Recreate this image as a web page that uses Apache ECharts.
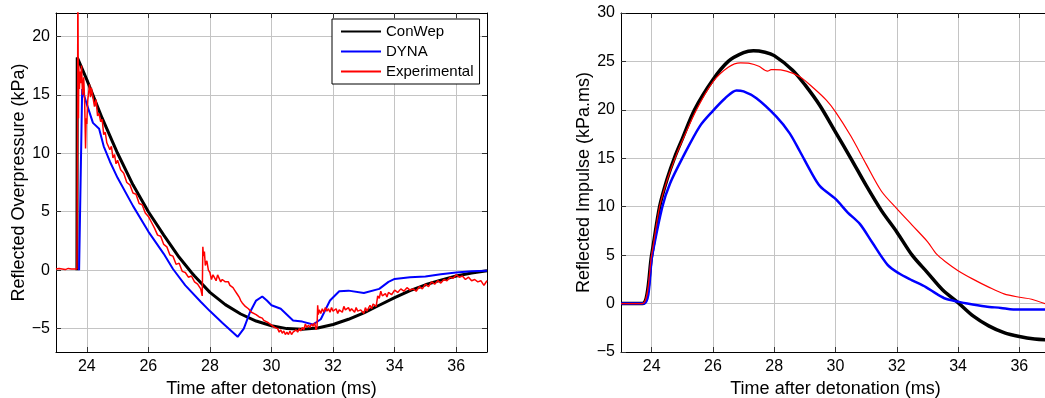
<!DOCTYPE html>
<html>
<head>
<meta charset="utf-8">
<script src="https://cdn.jsdelivr.net/npm/echarts@6.0.0/dist/echarts.min.js"></script>
<style>
html,body{margin:0;padding:0;background:#fff;}
#chart{width:1045px;height:398px;}
</style>
</head>
<body>
<div id="chart"></div>
<script>
// ---- tick labels ----
const timeTicks = [24, 26, 28, 30, 32, 34, 36];
const pressureTicks = [-5, 0, 5, 10, 15, 20];
const impulseTicks = [-5, 0, 5, 10, 15, 20, 25, 30];
const seriesNames = ['ConWep', 'DYNA', 'Experimental'];

// ---- left panel: reflected overpressure (kPa) vs time (ms) ----
const conwepPressure = [
  [23.68,0],[23.69,18.2],[24.0,16.3],[24.5,13.0],[25.0,10.0],[25.5,7.3],[26.0,5.0],[26.5,3.0],
  [27.0,1.1],[27.4,-0.2],[27.5,-0.5],[28.0,-1.9],[28.5,-2.95],[29.0,-3.75],[29.5,-4.35],[30.0,-4.75],
  [30.5,-5.0],[31.0,-5.05],[31.5,-4.95],[32.0,-4.65],[32.5,-4.2],[33.0,-3.65],[33.5,-3.0],
  [34.0,-2.35],[34.5,-1.75],[35.0,-1.25],[35.5,-0.85],[36.0,-0.5],[36.5,-0.25],[37.0,-0.05]
];
const dynaPressure = [
  [23.75,0],[23.85,15.5],[24.0,14.2],[24.2,12.6],[24.4,12.1],[24.55,10.6],[24.75,9.3],[25.0,7.9],
  [25.5,5.5],[26.0,3.3],[26.5,1.4],[26.8,0.1],[27.2,-1.3],[27.7,-2.7],[28.0,-3.5],[28.4,-4.5],
  [28.9,-5.7],[29.1,-5.0],[29.3,-3.6],[29.5,-2.6],[29.7,-2.25],[29.85,-2.6],[30.0,-3.0],[30.3,-3.3],
  [30.7,-4.3],[31.0,-4.4],[31.35,-4.65],[31.6,-4.2],[31.9,-2.6],[32.2,-1.8],[32.5,-1.75],[33.0,-1.95],
  [33.5,-1.6],[33.8,-1.0],[34.0,-0.75],[34.5,-0.6],[35.0,-0.55],[35.5,-0.35],[36.0,-0.2],[36.5,-0.1],[37.0,-0.05]
];
const expPressure = [
  [23.0,0.1],[23.05,-0.05],[23.1,0.15],[23.15,0.0],[23.2,0.1],[23.25,0.2],[23.3,0.05],[23.35,0.2],
  [23.4,0.15],[23.45,0.3],[23.5,0.1],[23.55,0.25],[23.6,0.1],[23.65,0.2],[23.68,0.1],
  [23.70,12.5],[23.71,25],[23.72,18],[23.73,13],[23.74,17.5],[23.76,15.5],[23.78,17.0],[23.80,16.0],
  [23.83,17.5],[23.86,15.0],[23.90,16.5],[23.93,14.5],[23.96,10.4],[23.98,13.0],[24.0,12.5],
  [24.03,14.5],[24.06,15.2],[24.09,15.9],[24.12,14.8],[24.15,15.6],[24.2,14.8],[24.25,14.0],
  [24.3,14.6],[24.35,13.2],[24.4,13.4],[24.45,12.7],[24.5,12.9],[24.55,11.6],[24.6,11.8],
  [24.65,10.9],[24.7,11.0],[24.75,10.3],[24.8,10.6],[24.85,9.6],[24.9,9.9],[24.95,9.1],[25.0,9.4],
  [25.1,8.6],[25.2,8.3],[25.3,7.5],[25.4,7.3],[25.5,6.6],[25.6,6.5],[25.7,5.7],[25.8,5.6],
  [25.9,4.9],[26.0,4.6],[26.1,4.1],[26.2,3.6],[26.3,3.0],[26.4,2.9],[26.5,2.2],[26.6,2.0],
  [26.7,1.3],[26.8,1.2],[26.9,0.5],[27.0,0.6],[27.1,-0.1],[27.2,-0.2],[27.3,-0.6],[27.4,-0.5],
  [27.5,-1.0],[27.6,-1.2],[27.7,-1.6],[27.75,-2.2],[27.77,2.0],[27.79,1.2],[27.82,1.6],[27.85,0.4],
  [27.9,0.8],[27.95,0.0],[28.0,-0.2],[28.05,-0.8],[28.1,-0.4],[28.15,-0.5],[28.2,-0.9],[28.25,-0.4],
  [28.3,-0.7],[28.35,-1.0],[28.4,-0.8],[28.5,-1.0],[28.55,-1.1],[28.6,-1.0],[28.65,-1.3],[28.7,-1.2],
  [28.75,-1.5],[28.8,-1.7],[28.85,-1.6],[28.9,-2.1],[28.95,-2.3],[29.0,-2.6],[29.05,-2.8],[29.1,-2.7],
  [29.15,-3.1],[29.2,-3.0],[29.25,-3.3],[29.3,-3.2],[29.35,-3.6],[29.4,-3.5],[29.5,-3.8],[29.55,-3.7],
  [29.6,-4.0],[29.7,-4.1],[29.75,-4.3],[29.8,-4.2],[29.9,-4.5],[29.95,-4.4],[30.0,-4.7],[30.05,-4.6],
  [30.1,-4.9],[30.2,-5.0],[30.25,-5.3],[30.3,-5.1],[30.35,-5.4],[30.4,-5.2],[30.45,-5.5],[30.5,-5.3],
  [30.55,-5.5],[30.6,-5.2],[30.65,-5.5],[30.7,-5.3],[30.75,-5.4],[30.8,-5.1],[30.85,-5.3],[30.9,-5.0],
  [30.95,-5.2],[31.0,-4.9],[31.05,-5.1],[31.1,-4.6],[31.15,-4.9],[31.2,-4.7],[31.25,-4.9],[31.3,-4.6],
  [31.35,-4.8],[31.4,-4.5],[31.45,-5.1],[31.48,-4.8],[31.5,-3.0],[31.52,-3.8],[31.55,-3.4],[31.6,-3.7],
  [31.65,-3.3],[31.7,-3.6],[31.75,-3.2],[31.8,-3.5],[31.85,-3.3],[31.9,-3.6],[31.95,-3.2],[32.0,-3.5],
  [32.1,-3.3],[32.15,-3.7],[32.2,-3.4],[32.3,-3.6],[32.35,-3.1],[32.4,-3.4],[32.5,-3.2],[32.55,-3.5],
  [32.6,-3.3],[32.7,-3.6],[32.75,-3.2],[32.8,-3.5],[32.9,-3.4],[33.0,-3.7],[33.05,-3.2],[33.1,-3.5],
  [33.2,-3.0],[33.25,-3.3],[33.3,-2.9],[33.4,-3.1],[33.45,-2.2],[33.5,-2.4],[33.55,-1.8],[33.6,-2.2],
  [33.7,-2.0],[33.75,-2.3],[33.8,-1.9],[33.9,-2.1],[34.0,-1.7],[34.1,-1.9],[34.2,-1.6],[34.3,-1.8],
  [34.4,-1.5],[34.5,-1.7],[34.6,-1.6],[34.7,-1.8],[34.8,-1.4],[34.9,-1.6],[35.0,-1.2],[35.1,-1.4],
  [35.2,-1.0],[35.3,-1.2],[35.4,-0.9],[35.5,-1.1],[35.6,-0.8],[35.7,-0.9],[35.8,-0.6],[35.9,-0.7],
  [36.0,-0.4],[36.05,-0.3],[36.1,-0.6],[36.2,-0.5],[36.3,-0.8],[36.4,-0.6],[36.5,-0.9],[36.6,-0.8],
  [36.7,-1.0],[36.8,-0.9],[36.9,-1.3],[36.95,-1.1],[37.0,-0.9]
];

// ---- right panel: reflected impulse (kPa.ms) vs time (ms) ----
const conwepImpulse = [
  [23.0,0],[23.7,0],[24.0,5.0],[24.26,10.0],[24.5,12.8],[24.75,15.1],[25.0,17.0],[25.4,20.0],
  [26.0,23.1],[26.5,25.0],[27.0,25.9],[27.32,26.1],[27.7,25.95],[28.0,25.6],[28.6,24.1],[29.0,22.6],
  [29.5,20.4],[30.0,17.7],[30.5,15.0],[31.0,12.2],[31.5,9.6],[32.0,7.4],[32.5,5.0],[33.0,3.2],
  [33.5,1.4],[34.0,0.1],[34.5,-1.3],[35.0,-2.3],[35.5,-3.0],[36.0,-3.4],[36.5,-3.65],[37.0,-3.75]
];
const dynaImpulse = [
  [23.0,0],[23.75,0],[24.02,5.0],[24.35,10.0],[24.6,12.4],[25.0,15.0],[25.57,18.3],[26.0,19.9],
  [26.4,21.2],[26.77,22.0],[27.0,21.9],[27.42,21.2],[28.07,19.3],[28.5,17.6],[28.84,15.7],[29.2,13.6],
  [29.5,12.1],[30.0,10.8],[30.4,9.4],[30.8,8.2],[31.2,6.3],[31.7,4.0],[32.08,3.1],[32.5,2.4],
  [32.95,1.7],[33.3,1.0],[33.6,0.5],[34.0,0.2],[34.3,0.0],[34.9,-0.3],[35.4,-0.45],[35.8,-0.6],
  [36.8,-0.6],[37.0,-0.6]
];
const expImpulse = [
  [23.0,0],[23.7,0],[24.0,5.0],[24.26,10.0],[24.5,12.7],[24.8,15.3],[25.0,16.8],[25.46,20.0],
  [26.0,22.9],[26.5,24.4],[26.9,24.85],[27.2,24.8],[27.5,24.5],[27.78,24.0],[27.9,24.15],[28.0,24.15],
  [28.4,24.0],[28.85,23.4],[29.3,22.2],[29.7,21.0],[30.0,19.8],[30.5,17.3],[31.0,14.4],[31.5,11.6],
  [32.0,9.8],[32.5,8.1],[33.0,6.4],[33.3,5.1],[33.6,4.3],[34.0,3.4],[34.5,2.5],[35.0,1.7],
  [35.5,1.0],[36.0,0.65],[36.4,0.45],[37.0,-0.2]
];

const FONT = '"Liberation Sans", Arial, Helvetica, sans-serif';
const GRIDC = '#c4c4c4';

function xAxes(gi) {
  return [
    {
      type: 'value', gridIndex: gi, min: 23, max: 37, position: 'bottom',
      axisLine: { show: true, onZero: false, lineStyle: { color: '#000', width: 1 } },
      axisTick: { show: true, inside: true, length: 5, customValues: timeTicks, lineStyle: { color: '#333' } },
      axisLabel: { show: true, customValues: timeTicks, color: '#000', fontSize: 16, fontFamily: FONT, margin: 7 },
      splitLine: { show: true, lineStyle: { color: GRIDC, width: 1 } },
      name: 'Time after detonation (ms)', nameLocation: 'middle', nameGap: 26,
      nameTextStyle: { color: '#000', fontSize: 18, fontFamily: FONT }
    },
    {
      type: 'value', gridIndex: gi, min: 23, max: 37, position: 'top',
      axisLine: { show: true, onZero: false, lineStyle: { color: '#000', width: 1 } },
      axisTick: { show: true, inside: true, length: 5, customValues: timeTicks, lineStyle: { color: '#333' } },
      axisLabel: { show: false },
      splitLine: { show: false }
    }
  ];
}
function yAxes(gi, min, max, ticks, name) {
  return [
    {
      type: 'value', gridIndex: gi, min: min, max: max, position: 'left',
      axisLine: { show: true, onZero: false, lineStyle: { color: '#000', width: 1 } },
      axisTick: { show: true, inside: true, length: 5, customValues: ticks, lineStyle: { color: '#333' } },
      axisLabel: { show: true, customValues: ticks, color: '#000', fontSize: 16, fontFamily: FONT, margin: 6,
        formatter: v => (v < 0 ? '\u2212' + Math.abs(v) : String(v)) },
      splitLine: { show: true, lineStyle: { color: GRIDC, width: 1 } },
      name: name, nameLocation: 'middle', nameGap: 28, nameRotate: 90,
      nameTextStyle: { color: '#000', fontSize: 18, fontFamily: FONT }
    },
    {
      type: 'value', gridIndex: gi, min: min, max: max, position: 'right',
      axisLine: { show: true, onZero: false, lineStyle: { color: '#000', width: 1 } },
      axisTick: { show: true, inside: true, length: 5, customValues: ticks, lineStyle: { color: '#333' } },
      axisLabel: { show: false },
      splitLine: { show: false }
    }
  ];
}

function line(name, data, xi, yi, color, width, z, smooth) {
  return {
    name: name, type: 'line', data: data, xAxisIndex: xi, yAxisIndex: yi,
    showSymbol: false, symbol: 'none', clip: true, z: z,
    smooth: smooth || false,
    lineStyle: { color: color, width: width }, itemStyle: { color: color },
    emphasis: { disabled: true }
  };
}

const chart = echarts.init(document.getElementById('chart'), null, { renderer: 'canvas' });
chart.setOption({
  animation: false,
  backgroundColor: '#fff',
  textStyle: { fontFamily: FONT },
  grid: [
    { left: 56, top: 13, width: 431, height: 339, containLabel: false, outerBoundsMode: 'none' },
    { left: 621, top: 13, width: 429, height: 339, containLabel: false, outerBoundsMode: 'none' }
  ],
  xAxis: [...xAxes(0), ...xAxes(1)],
  yAxis: [
    ...yAxes(0, -7, 22, pressureTicks, 'Reflected Overpressure (kPa)'),
    ...yAxes(1, -5, 30, impulseTicks, 'Reflected Impulse (kPa.ms)')
  ],
  legend: {
    data: seriesNames,
    orient: 'vertical', left: 332, top: 19,
    backgroundColor: '#fff', borderColor: '#000', borderWidth: 1,
    padding: [5, 6, 5, 8], itemGap: 5, itemWidth: 40, itemHeight: 14,
    itemStyle: { opacity: 0, borderWidth: 0 },
    textStyle: { color: '#000', fontSize: 15, fontFamily: FONT },
    selectedMode: false
  },
  series: [
    line(seriesNames[0], conwepPressure, 0, 0, '#000000', 3, 2, false),
    line(seriesNames[1], dynaPressure, 0, 0, '#0000ff', 2, 3, false),
    line(seriesNames[2], expPressure, 0, 0, '#ff0000', 1.5, 4, false),
    line(seriesNames[0], conwepImpulse, 2, 2, '#000000', 3.5, 2, 0.3),
    line(seriesNames[1], dynaImpulse, 2, 2, '#0000ff', 2.5, 3, 0.3),
    line(seriesNames[2], expImpulse, 2, 2, '#ff0000', 1.2, 4, 0.3)
  ]
});
</script>
</body>
</html>
